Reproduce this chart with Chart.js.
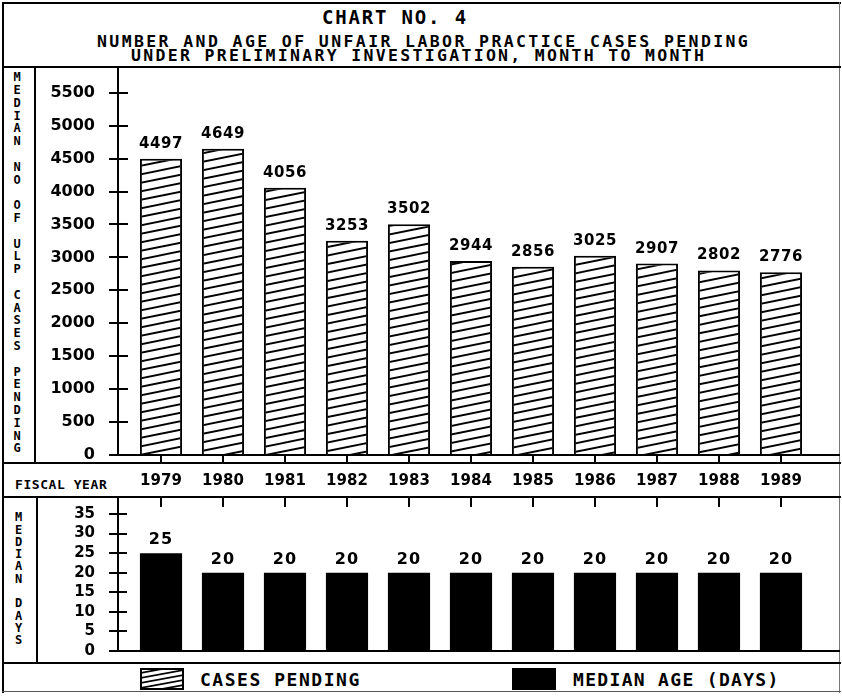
<!DOCTYPE html>
<html>
<head>
<meta charset="utf-8">
<title>Chart No. 4</title>
<script src="https://cdn.jsdelivr.net/npm/chart.js@4.4.1/dist/chart.umd.min.js"></script>
<style>
  html, body { margin: 0; padding: 0; background: #fff; }
  body { position: relative; width: 842px; height: 696px; overflow: hidden; color: #000;
         font-family: "DejaVu Sans Mono", monospace; font-weight: bold; }
  .rule { position: absolute; background: #000; }
  .txt { position: absolute; white-space: nowrap; line-height: 1; }
  .vl { position: absolute; width: 16px; text-align: center; font-size: 12px; line-height: 1; }
  canvas { position: absolute; }
</style>
</head>
<body>
<!-- frame and panel rules -->
<div class="rule" style="left:2px;top:2px;width:839px;height:2px"></div>
<div class="rule" style="left:2px;top:2px;width:2px;height:691px"></div>
<div class="rule" style="left:839px;top:2px;width:1px;height:691px;background:#777"></div>
<div class="rule" style="left:2px;top:691px;width:839px;height:1px;background:#555"></div>
<div class="rule" style="left:2px;top:66px;width:839px;height:2px"></div>
<div class="rule" style="left:34px;top:66px;width:2px;height:397px"></div>
<div class="rule" style="left:2px;top:462px;width:839px;height:2px"></div>
<div class="rule" style="left:2px;top:496px;width:839px;height:2px"></div>
<div class="rule" style="left:36px;top:496px;width:2px;height:167px"></div>
<div class="rule" style="left:2px;top:662px;width:839px;height:2px"></div>

<!-- titles -->
<div class="txt fit" data-w="145" style="left:322px;top:8px;font-size:19px">CHART NO. 4</div>
<div class="txt fit" data-w="652" style="left:97px;top:34px;font-size:16.5px">NUMBER AND AGE OF UNFAIR LABOR PRACTICE CASES PENDING</div>
<div class="txt fit" data-w="574" style="left:131px;top:47.5px;font-size:16.5px">UNDER PRELIMINARY INVESTIGATION, MONTH TO MONTH</div>
<div class="txt fit" data-w="92" style="left:15px;top:477.5px;font-size:13px">FISCAL YEAR</div>

<canvas id="casesChart" width="804" height="429" style="left:36px;top:68px"></canvas>
<canvas id="daysChart" width="803" height="166" style="left:37px;top:497px"></canvas>

<!-- legend -->
<canvas id="swatchHatch" width="44" height="22" style="left:140px;top:668px"></canvas>
<div class="txt fit" data-w="160" style="left:200px;top:671px;font-size:18px">CASES PENDING</div>
<div style="position:absolute;left:512px;top:668px;width:44px;height:22px;background:#000"></div>
<div class="txt fit" data-w="206" style="left:573px;top:671px;font-size:18px">MEDIAN AGE (DAYS)</div>

<script>
// Fiscal years and the two monthly series
const fiscalYears = ['1979', '1980', '1981', '1982', '1983', '1984', '1985', '1986', '1987', '1988', '1989'];
const casesPending = [4497, 4649, 4056, 3253, 3502, 2944, 2856, 3025, 2907, 2802, 2776];
const medianAgeDays = [25, 20, 20, 20, 20, 20, 20, 20, 20, 20, 20];
const casesTicks = [0, 500, 1000, 1500, 2000, 2500, 3000, 3500, 4000, 4500, 5000, 5500];
const daysTicks = [0, 5, 10, 15, 20, 25, 30, 35];

// shared horizontal range (in year-index units) so both panels line up
const X_MIN = -0.6935;
const X_MAX = 10.952;

// stretch monospace text to the width its line occupies
const meter = document.createElement('canvas').getContext('2d');
document.querySelectorAll('.fit').forEach(el => {
  const cs = getComputedStyle(el);
  meter.font = `${cs.fontWeight} ${cs.fontSize} ${cs.fontFamily}`;
  const natural = meter.measureText(el.textContent).width;
  const n = el.textContent.length;
  el.style.letterSpacing = ((+el.dataset.w - natural) / (n - 0.5)) + 'px';
});

// vertical axis titles, one letter per row
function stackLetters(text, cx, y0, step) {
  [...text].forEach((ch, i) => {
    if (ch === ' ') return;
    const d = document.createElement('div');
    d.className = 'vl';
    d.textContent = ch;
    d.style.left = (cx - 8) + 'px';
    d.style.top = (y0 + i * step - 5.8) + 'px';
    document.body.appendChild(d);
  });
}
stackLetters('MEDIAN NO OF ULP CASES PENDING', 17, 77, 12.8);
stackLetters('MEDIAN DAYS', 18.5, 517, 12.3);

// diagonal hatch used for the "cases pending" bars
function hatchPattern(ctx) {
  const w = 42, h = 17, step = 8.5;
  const c = document.createElement('canvas');
  c.width = w; c.height = h;
  const g = c.getContext('2d');
  g.fillStyle = '#fff';
  g.fillRect(0, 0, w, h);
  g.strokeStyle = '#000';
  g.lineWidth = 1.8;
  for (let b = -2 * step; b <= h + 2 * step; b += step) {
    g.beginPath();
    g.moveTo(0, b);
    g.lineTo(w, b - step);
    g.stroke();
  }
  return ctx.createPattern(c, 'repeat');
}

// legend swatch for the hatched series
(function () {
  const g = document.getElementById('swatchHatch').getContext('2d');
  g.fillStyle = '#fff';
  g.fillRect(0, 0, 44, 22);
  g.save();
  g.beginPath(); g.rect(1, 1, 42, 20); g.clip();
  g.strokeStyle = '#000'; g.lineWidth = 1.8;
  for (let b = 0; b < 40; b += 5) {
    g.beginPath(); g.moveTo(0, b); g.lineTo(44, b - 8); g.stroke();
  }
  g.restore();
  g.lineWidth = 2; g.strokeRect(1, 1, 42, 20);
})();

// value labels above the bars, the inner half of each y tick cross,
// and (optionally) short marks hanging from the top edge at each year
function panelMarks(cfg) {
  return {
    id: 'panelMarks',
    afterDatasetsDraw(chart) {
      const { ctx, chartArea, scales } = chart;
      const meta = chart.getDatasetMeta(0);
      const data = chart.data.datasets[0].data;
      ctx.save();
      ctx.fillStyle = '#000';
      ctx.font = cfg.font;
      ctx.letterSpacing = cfg.spacing;
      ctx.textAlign = 'center';
      ctx.textBaseline = 'alphabetic';
      meta.data.forEach((bar, i) => {
        ctx.fillText(String(data[i].y), bar.x, bar.y - cfg.offset);
      });
      ctx.restore();

      ctx.save();
      ctx.strokeStyle = '#000';
      ctx.lineWidth = 2;
      ctx.setLineDash([]);
      cfg.ticks.forEach(v => {
        const y = Math.round(scales.y.getPixelForValue(v));
        ctx.beginPath();
        ctx.moveTo(chartArea.left, y);
        ctx.lineTo(chartArea.left + cfg.inner, y);
        ctx.stroke();
      });
      if (cfg.hang) {
        fiscalYears.forEach((_, i) => {
          const x = Math.round(scales.x.getPixelForValue(i));
          ctx.beginPath();
          ctx.moveTo(x, chartArea.top);
          ctx.lineTo(x, chartArea.top + cfg.hang);
          ctx.stroke();
        });
      }
      ctx.restore();
    }
  };
}

const numFont = (size) => ({ family: 'DejaVu Sans', weight: 'bold', size });
const yearTicks = s => { s.ticks = fiscalYears.map((_, i) => ({ value: i })); };
// fixed axis boxes: no extra room reserved for edge labels
const fixBox = (w, h) => s => {
  if (w != null) s.width = w;
  if (h != null) s.height = h;
  s.paddingTop = 0; s.paddingBottom = 0; s.paddingLeft = 0; s.paddingRight = 0;
};

const casesCanvas = document.getElementById('casesChart');
new Chart(casesCanvas, {
  type: 'bar',
  data: {
    datasets: [{
      label: 'CASES PENDING',
      data: casesPending.map((v, i) => ({ x: i, y: v })),
      backgroundColor: hatchPattern(casesCanvas.getContext('2d')),
      borderColor: '#000',
      borderWidth: 2,
      barPercentage: 0.68,
      categoryPercentage: 1
    }]
  },
  options: {
    responsive: false,
    animation: false,
    devicePixelRatio: 1,
    events: [],
    layout: { padding: 0 },
    plugins: { legend: { display: false }, tooltip: { enabled: false } },
    scales: {
      x: {
        type: 'linear', min: X_MIN, max: X_MAX, offset: false,
        afterBuildTicks: yearTicks,
        afterFit: fixBox(null, 42),
        border: { display: true, color: '#000', width: 2 },
        grid: { display: true, offset: false, drawOnChartArea: false, drawTicks: true, tickLength: 8, color: '#000', lineWidth: 2 },
        ticks: { padding: 9, color: '#000', autoSkip: false, maxRotation: 0,
                 callback: v => fiscalYears[v], font: numFont(15) }
      },
      y: {
        min: 0, max: 5875,
        afterBuildTicks: s => { s.ticks = casesTicks.map(v => ({ value: v })); },
        afterFit: fixBox(82, null),
        border: { display: true, color: '#000', width: 2 },
        grid: { display: true, drawOnChartArea: false, drawTicks: true, tickLength: 9, color: '#000', lineWidth: 2 },
        ticks: { padding: 14, color: '#000', autoSkip: false, callback: v => String(v), font: numFont(16) }
      }
    }
  },
  plugins: [panelMarks({ offset: 11, font: 'bold 15px "DejaVu Sans"', spacing: '0.5px',
                         ticks: casesTicks, inner: 10, hang: 0 })]
});

new Chart(document.getElementById('daysChart'), {
  type: 'bar',
  data: {
    datasets: [{
      label: 'MEDIAN AGE (DAYS)',
      data: medianAgeDays.map((v, i) => ({ x: i, y: v })),
      backgroundColor: '#000',
      borderWidth: 0,
      barPercentage: 0.68,
      categoryPercentage: 1
    }]
  },
  options: {
    responsive: false,
    animation: false,
    devicePixelRatio: 1,
    events: [],
    layout: { padding: 0 },
    plugins: { legend: { display: false }, tooltip: { enabled: false } },
    scales: {
      x: {
        type: 'linear', min: X_MIN, max: X_MAX, offset: false,
        afterBuildTicks: yearTicks,
        afterFit: fixBox(null, 12),
        border: { display: true, color: '#000', width: 2 },
        grid: { display: false, offset: false },
        ticks: { display: false }
      },
      y: {
        min: 0, max: 39.35,
        afterBuildTicks: s => { s.ticks = daysTicks.map(v => ({ value: v })); },
        afterFit: fixBox(81, null),
        border: { display: true, color: '#000', width: 2 },
        grid: { display: true, drawOnChartArea: false, drawTicks: true, tickLength: 9, color: '#000', lineWidth: 2 },
        ticks: { padding: 14, color: '#000', autoSkip: false, callback: v => String(v), font: numFont(15) }
      }
    }
  },
  plugins: [panelMarks({ offset: 9, font: 'bold 16px "DejaVu Sans"', spacing: '1px',
                         ticks: daysTicks, inner: 9, hang: 10 })]
});
</script>
</body>
</html>
